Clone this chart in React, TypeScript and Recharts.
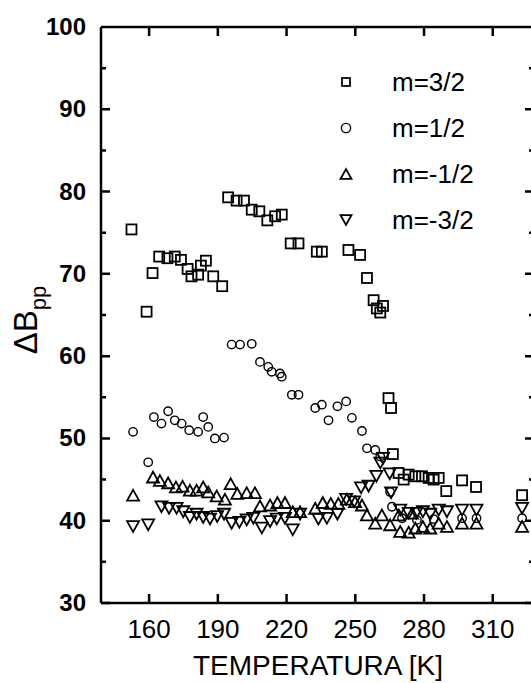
import React from 'react';
import { ScatterChart, Scatter, XAxis, YAxis } from 'recharts';

// temperatura [K] and line width dBpp for each m
const sqT = [152.3, 158.9, 161.5, 164.4, 168.0, 171.2, 173.9, 176.8, 178.5, 181.4, 182.6, 184.8, 188.0, 191.9,
  194.5, 198.2, 201.4, 204.8, 208.1, 211.6, 215.0, 217.9, 221.8, 225.2, 233.2, 235.4, 247.0, 252.1, 255.1, 258.0,
  259.4, 260.9, 262.1, 264.5, 265.6, 266.4, 268.9, 271.1, 273.3, 276.2, 279.1, 282.0, 284.2, 286.4, 289.7, 296.6,
  302.7, 322.8];
const sqB = [75.4, 65.4, 70.1, 72.1, 71.9, 72.1, 71.7, 70.6, 69.7, 69.9, 71.0, 71.6, 69.7, 68.5,
  79.3, 78.9, 78.9, 77.8, 77.6, 76.5, 77.0, 77.2, 73.7, 73.7, 72.7, 72.7, 72.9, 72.3, 69.5, 66.8,
  65.8, 65.3, 66.1, 54.9, 53.7, 48.1, 45.8, 45.0, 45.6, 45.4, 45.4, 45.2, 45.0, 45.2, 43.6, 44.9,
  44.1, 43.1];

const ciT = [153.0, 159.6, 162.1, 165.4, 168.3, 171.2, 174.2, 177.5, 181.4, 183.6, 185.8, 188.7, 192.7,
  196.0, 199.7, 204.8, 208.4, 212.0, 213.5, 217.1, 217.9, 222.3, 225.2, 232.5, 235.4, 238.3, 242.2, 246.0,
  248.5, 252.9, 255.1, 258.7, 260.9, 265.2, 266.0, 270.4, 276.9, 284.2, 296.6, 302.9, 322.8];
const ciB = [50.8, 47.1, 52.6, 51.8, 53.3, 52.2, 51.8, 51.0, 50.8, 52.6, 51.4, 50.0, 50.1,
  61.4, 61.4, 61.5, 59.3, 58.7, 58.1, 57.9, 57.5, 55.3, 55.3, 53.7, 54.1, 52.2, 53.9, 54.5,
  52.5, 50.9, 48.8, 48.6, 47.8, 43.5, 41.7, 40.3, 40.1, 40.2, 40.3, 40.3, 40.3];

const upT = [153.0, 161.7, 164.7, 168.3, 171.7, 174.6, 177.8, 180.7, 183.6, 185.8, 189.5, 193.1, 195.6,
  198.5, 202.6, 206.2, 208.4, 212.8, 216.0, 219.3, 222.7, 225.9, 232.5, 235.8, 239.3, 242.6, 246.3,
  249.9, 252.9, 255.1, 258.7, 261.6, 265.2, 269.0, 269.6, 273.3, 274.8, 276.2, 279.5, 282.7, 286.4,
  290.0, 296.6, 302.9, 322.8];
const upB = [43.1, 45.3, 44.9, 44.6, 44.1, 44.2, 43.7, 43.7, 44.1, 43.5, 43.0, 42.6, 44.5,
  43.3, 43.4, 43.4, 41.8, 41.9, 42.2, 42.2, 41.1, 41.1, 41.5, 42.2, 42.1, 42.1, 42.6,
  42.3, 41.9, 40.7, 39.7, 40.7, 39.5, 40.7, 38.7, 38.6, 40.9, 39.1, 39.3, 39.1, 39.7,
  39.3, 39.7, 39.7, 39.3];

const dnT = [153.0, 159.6, 165.4, 168.7, 172.0, 174.9, 177.8, 180.7, 183.6, 186.6, 189.7, 192.7, 196.0,
  199.4, 202.6, 205.5, 209.2, 212.8, 215.7, 219.3, 222.7, 225.9, 233.9, 237.6, 242.2, 246.0, 249.5,
  252.5, 255.8, 259.2, 260.9, 262.1, 265.0, 265.6, 269.6, 273.3, 276.6, 279.5, 282.7, 286.4, 290.0,
  296.6, 302.9, 322.8];
const dnB = [39.3, 39.5, 41.7, 41.5, 41.5, 41.1, 40.4, 40.8, 40.4, 40.2, 40.5, 40.8, 39.7,
  39.8, 40.1, 40.3, 39.1, 39.9, 40.2, 40.3, 38.9, 40.8, 40.2, 40.3, 40.8, 42.6, 42.3,
  44.0, 44.2, 45.4, 47.0, 47.6, 45.7, 43.4, 41.3, 40.9, 40.9, 41.1, 40.8, 41.3, 41.1,
  41.3, 41.3, 41.5];

const xTicks = [160, 190, 220, 250, 280, 310];
const yTicks = [30, 35, 40, 45, 50, 55, 60, 65, 70, 75, 80, 85, 90, 95, 100];
const legendNames = ['m=3/2', 'm=1/2', 'm=-1/2', 'm=-3/2'];

const X_MIN = 139;
const X_MAX = 328;
const Y_MIN = 30;
const Y_MAX = 100;

const toPts = (t: number[], b: number[]) => t.map((v, i) => ({ t: v, b: b[i] }));

const FONT = 'Liberation Sans, Arial, Helvetica, sans-serif';
const INK = '#000';

// chart layout: the plot box follows from these
const CHART_W = 545;
const CHART_H = 683;
const MARGIN = { top: 27, right: 11, bottom: 0, left: 0 };
const Y_AXIS_W = 101;
const X_AXIS_H = 80;
const PLOT = {
  left: MARGIN.left + Y_AXIS_W,
  top: MARGIN.top,
  width: CHART_W - MARGIN.left - MARGIN.right - Y_AXIS_W,
  height: CHART_H - MARGIN.top - MARGIN.bottom - X_AXIS_H,
};
const sx = (t: number) => PLOT.left + ((t - X_MIN) / (X_MAX - X_MIN)) * PLOT.width;
const sy = (v: number) => PLOT.top + ((Y_MAX - v) / (Y_MAX - Y_MIN)) * PLOT.height;

type Kind = 'sq' | 'ci' | 'up' | 'dn';
const legendKinds: Kind[] = ['sq', 'ci', 'up', 'dn'];

function Marker({ kind, cx, cy, s }: { kind: Kind; cx: number; cy: number; s: number }) {
  const common = { fill: 'none', stroke: INK, strokeWidth: 1.8 };
  if (kind === 'sq') return <rect x={cx - s / 2} y={cy - s / 2} width={s} height={s} {...common} />;
  if (kind === 'ci') return <circle cx={cx} cy={cy} r={s * 0.42} {...common} strokeWidth={1.4} />;
  const h = s * 0.9;
  if (kind === 'up')
    return <polygon points={`${cx - s / 2},${cy + h / 2} ${cx + s / 2},${cy + h / 2} ${cx},${cy - h / 2}`} {...common} />;
  return <polygon points={`${cx - s / 2},${cy - h / 2} ${cx + s / 2},${cy - h / 2} ${cx},${cy + h / 2}`} {...common} />;
}

const shapeOf = (kind: Kind, s: number) => (p: any) => <Marker kind={kind} cx={p.cx} cy={p.cy} s={s} />;

// frame top/right edges and inward ticks on all four sides
const Frame = () => {
  const l = sx(X_MIN);
  const r = sx(X_MAX);
  const t = sy(Y_MAX);
  const b = sy(Y_MIN);
  let d = `M${l},${t}H${r}V${b}`;
  xTicks.forEach((x) => {
    d += `M${sx(x)},${b}v-9M${sx(x)},${t}v9`;
  });
  yTicks.forEach((v) => {
    const len = v % 10 === 0 ? 9 : 5;
    d += `M${l},${sy(v)}h${len}M${r},${sy(v)}h${-len}`;
  });
  return <path d={d} fill="none" stroke={INK} strokeWidth={2.5} />;
};

const LeftTick = (p: any) => {
  const v = p.payload.value;
  if (v % 10 !== 0) return <g />;
  return (
    <text x={p.x - 7} y={p.y + 8} textAnchor="end" fontSize={24} fontWeight={700} fontFamily={FONT} fill={INK}>
      {v}
    </text>
  );
};

const BottomTick = (p: any) => (
  <text x={p.x} y={p.y + 27} textAnchor="middle" fontSize={26} fontFamily={FONT} fill={INK}>
    {p.payload.value}
  </text>
);

const YTitle = () => (
  <text transform="translate(37, 320) rotate(-90)" textAnchor="middle" fontSize={33} fontFamily={FONT} fill={INK}>
    ΔB
    <tspan fontSize={22} dy={9}>pp</tspan>
  </text>
);

const XTitle = () => (
  <text x={318} y={675} textAnchor="middle" fontSize={28} fontFamily={FONT} fill={INK}>
    TEMPERATURA [K]
  </text>
);

const LegendPanel = () => (
  <g>
    {legendNames.map((name, i) => (
      <g key={name}>
        <Marker kind={legendKinds[i]} cx={346} cy={82 + i * 46} s={legendKinds[i] === 'sq' ? 8 : 11} />
        <text x={392} y={82 + i * 46 + 9} fontSize={26} fontFamily={FONT} fill={INK}>{name}</text>
      </g>
    ))}
  </g>
);

export default function App() {
  return (
    <div style={{ position: 'absolute', left: 0, top: 0, width: 531, height: 683, overflow: 'hidden', background: '#fff' }}>
      <ScatterChart width={CHART_W} height={CHART_H} margin={MARGIN}>
        <XAxis xAxisId="b" type="number" dataKey="t" domain={[X_MIN, X_MAX]} ticks={xTicks} interval={0}
          height={X_AXIS_H} tickLine={false} tick={BottomTick} axisLine={{ stroke: INK, strokeWidth: 2.5 }} />
        <YAxis yAxisId="l" type="number" dataKey="b" domain={[Y_MIN, Y_MAX]} ticks={yTicks} interval={0}
          width={Y_AXIS_W} tickLine={false} tick={LeftTick} axisLine={{ stroke: INK, strokeWidth: 2.5 }} />

        <Scatter name="m=3/2" xAxisId="b" yAxisId="l" data={toPts(sqT, sqB)} shape={shapeOf('sq', 10)} isAnimationActive={false} />
        <Scatter name="m=1/2" xAxisId="b" yAxisId="l" data={toPts(ciT, ciB)} shape={shapeOf('ci', 10)} isAnimationActive={false} />
        <Scatter name="m=-1/2" xAxisId="b" yAxisId="l" data={toPts(upT, upB)} shape={shapeOf('up', 12)} isAnimationActive={false} />
        <Scatter name="m=-3/2" xAxisId="b" yAxisId="l" data={toPts(dnT, dnB)} shape={shapeOf('dn', 12)} isAnimationActive={false} />
        <Frame />
        <LegendPanel />
        <YTitle />
        <XTitle />
      </ScatterChart>
    </div>
  );
}
